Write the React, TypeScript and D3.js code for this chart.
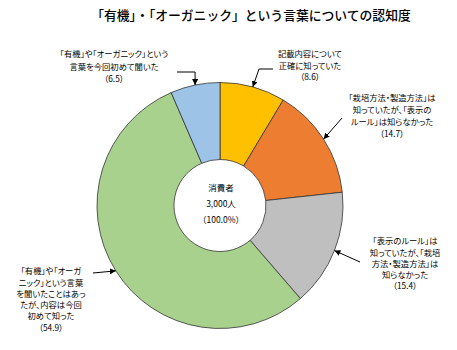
import React, { useEffect, useRef } from 'react'
import * as d3 from 'd3'

const title = '「有機」・「オーガニック」という言葉についての認知度'

// slices in clockwise order from 12 o'clock
const categories = [
  ['記載内容について', '正確に知っていた'],
  ['「栽培方法・製造方法」は', '知っていたが、「表示の', 'ルール」は知らなかった'],
  ['「表示のルール」は', '知っていたが、「栽培', '方法・製造方法」は', '知らなかった'],
  ['「有機」や「オーガ', 'ニック」という言葉', 'を聞いたことはあっ', 'たが、内容は今回', '初めて知った'],
  ['「有機」や「オーガニック」という', '言葉を今回初めて聞いた'],
]
const values = [8.6, 14.7, 15.4, 54.9, 6.5]
const colors = ['#FFC000', '#ED7D31', '#BFBFBF', '#A9D18E', '#9DC3E6']
const centerLines = ['消費者', '3,000人', '（100.0%）']

// label placement: text center x, first line y, arrow start and optional bend
const labelLayout = [
  { x: 310, y: 55, lh: 11.5, from: [273, 69], elbow: [259, 69] },
  { x: 392, y: 99, lh: 12, from: [342, 118] },
  { x: 405, y: 242, lh: 11.3, from: [360, 262] },
  { x: 51, y: 272, lh: 11.3, from: [93, 273] },
  { x: 114, y: 55, lh: 12.3, from: [177, 72], elbow: 'vertical' },
]

const W = 457
const H = 350
const cx = 220
const cy = 205.5
const outerR = 123
const innerR = 46
const font = '"Noto Sans CJK JP", "Noto Sans", sans-serif'

export default function App() {
  const svgRef = useRef<SVGSVGElement>(null)

  useEffect(() => {
    if (!svgRef.current) return
    const svg = d3.select(svgRef.current)
    svg.selectAll('*').remove() // Clear previous renders

    svg
      .append('defs')
      .append('marker')
      .attr('id', 'arrow')
      .attr('viewBox', '0 0 10 10')
      .attr('refX', 10)
      .attr('refY', 5)
      .attr('markerWidth', 6)
      .attr('markerHeight', 6)
      .attr('markerUnits', 'userSpaceOnUse')
      .attr('orient', 'auto')
      .append('path')
      .attr('d', 'M0,0L10,5L0,10Z')
      .attr('fill', '#000')

    svg
      .append('text')
      .attr('x', 251)
      .attr('y', 17)
      .attr('text-anchor', 'middle')
      .attr('dominant-baseline', 'middle')
      .attr('font-family', font)
      .attr('font-size', 12.8)
      .attr('font-weight', 500)
      .attr('fill', '#000')
      .text(title)

    const pie = d3
      .pie<number>()
      .sort(null)
      .value((d) => d)
    const arcs = pie(values)
    const arcGen = d3.arc<d3.PieArcDatum<number>>().innerRadius(innerR).outerRadius(outerR)

    const g = svg.append('g').attr('transform', `translate(${cx},${cy})`)
    g.selectAll('path.slice')
      .data(arcs)
      .join('path')
      .attr('class', 'slice')
      .attr('d', arcGen)
      .attr('fill', (_, i) => colors[i])
      .attr('stroke', '#333')
      .attr('stroke-width', 0.8)

    // center text
    centerLines.forEach((t, i) => {
      g.append('text')
        .attr('x', 1)
        .attr('y', -17 + i * 16)
        .attr('text-anchor', 'middle')
        .attr('dominant-baseline', 'middle')
        .attr('font-family', font)
        .attr('font-size', 8.5)
        .attr('fill', '#000')
        .text(t)
    })

    // labels and arrows
    arcs.forEach((a, i) => {
      const lay = labelLayout[i]
      const lines = [...categories[i], `（${values[i]}）`]
      const txt = svg
        .append('text')
        .attr('text-anchor', 'middle')
        .attr('font-family', font)
        .attr('font-size', 8.3)
        .attr('fill', '#000')
        .style('font-feature-settings', '"palt"')
      lines.forEach((l, j) => {
        txt
          .append('tspan')
          .attr('x', lay.x)
          .attr('y', lay.y + j * lay.lh)
          .attr('dominant-baseline', 'middle')
          .text(l)
      })

      const mid = (a.startAngle + a.endAngle) / 2
      const tip: [number, number] = [cx + outerR * Math.sin(mid), cy - outerR * Math.cos(mid)]
      const pts: [number, number][] = [lay.from as [number, number]]
      if (lay.elbow === 'vertical') pts.push([tip[0], lay.from[1]])
      else if (Array.isArray(lay.elbow)) pts.push(lay.elbow as [number, number])
      pts.push(tip)

      svg
        .append('path')
        .attr('d', d3.line()(pts))
        .attr('fill', 'none')
        .attr('stroke', '#000')
        .attr('stroke-width', 1)
        .attr('marker-end', 'url(#arrow)')
    })
  }, [])

  return (
    <svg
      ref={svgRef}
      width={W}
      height={H}
      style={{ position: 'absolute', left: 0, top: 0, background: '#fff' }}
    />
  )
}
